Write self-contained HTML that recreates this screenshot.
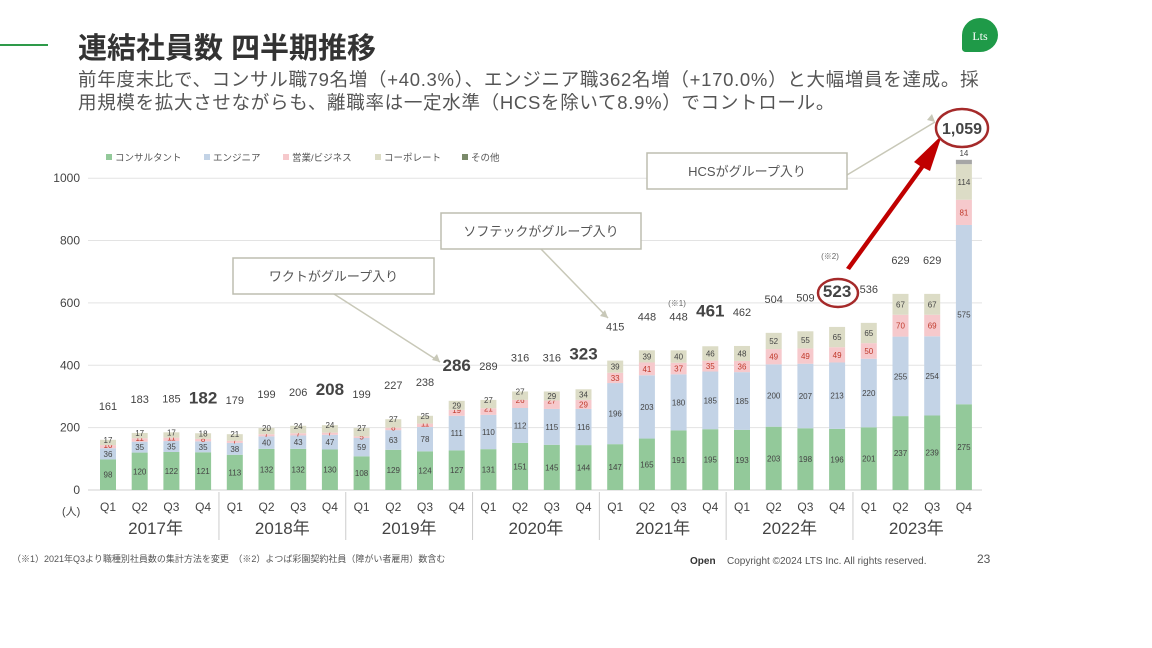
<!DOCTYPE html>
<html><head><meta charset="utf-8">
<style>
body{margin:0;width:1152px;height:648px;background:#fff;overflow:hidden;font-family:"Liberation Sans","Noto Sans CJK JP",sans-serif;color:#404040;position:relative}
.abs{position:absolute}
</style></head><body>
<div class="abs" style="left:0;top:44px;width:48px;height:2px;background:#2e9a4a"></div>
<div class="abs" style="left:78px;top:25px;font-size:29px;font-weight:bold;color:#333">連結社員数 四半期推移</div>
<div class="abs" style="left:78px;top:68px;font-size:18.5px;line-height:23px;color:#555;white-space:nowrap;letter-spacing:0.7px">前年度末比で、コンサル職79名増（+40.3%）、エンジニア職362名増（+170.0%）と大幅増員を達成。採<br>用規模を拡大させながらも、離職率は一定水準（HCSを除いて8.9%）でコントロール。</div>
<div class="abs" style="left:962px;top:18px;width:36px;height:34px;background:#1f9a48;border-radius:50% 50% 50% 10%;color:#fff;font-family:'Liberation Serif',serif;font-size:12px;text-align:center;line-height:36px">Lts</div>
<svg class="abs" style="left:0;top:0" width="1152" height="648" id="chart"></svg>
<div class="abs" style="left:12px;top:552px;font-size:9px;color:#555">（※1）2021年Q3より職種別社員数の集計方法を変更　（※2）よつば彩園契約社員（障がい者雇用）数含む</div>
<div class="abs" style="left:690px;top:556px;font-size:10px;font-weight:bold;color:#333">Open</div>
<div class="abs" style="left:727px;top:556px;font-size:10px;color:#555">Copyright ©2024 LTS Inc. All rights reserved.</div>
<div class="abs" style="left:977px;top:552px;font-size:12px;color:#555">23</div>
<script>
const years=["2017年","2018年","2019年","2020年","2021年","2022年","2023年"];
const quarters=["Q1","Q2","Q3","Q4"];
const consultant=[98,120,122,121,113,132,132,130,108,129,124,127,131,151,145,144,147,165,191,195,193,203,198,196,201,237,239,275];
const engineer=[36,35,35,35,38,40,43,47,59,63,78,111,110,112,115,116,196,203,180,185,185,200,207,213,220,255,254,575];
const sales=[10,11,11,8,7,7,7,7,5,8,11,19,21,26,27,29,33,41,37,35,36,49,49,49,50,70,69,81];
const corporate=[17,17,17,18,21,20,24,24,27,27,25,29,27,27,29,34,39,39,40,46,48,52,55,65,65,67,67,114];
const others=[0,0,0,0,0,0,0,0,0,0,0,0,0,0,0,0,0,0,0,0,0,0,0,0,0,0,0,14];
const totals=[161,183,185,182,179,199,206,208,199,227,238,286,289,316,316,323,415,448,448,461,462,504,509,523,536,629,629,1059];
const yTicks=[0,200,400,600,800,1000];
const NS="http://www.w3.org/2000/svg";
const svg=document.getElementById('chart');
const y0=490,ppu=0.3118,x0=108,step=31.7,bw=16;
const yS=v=>y0-v*ppu, xS=i=>x0+i*step;
function el(t,a,txt){const e=document.createElementNS(NS,t);for(const k in a)e.setAttribute(k,a[k]);if(txt!==undefined)e.textContent=txt;svg.appendChild(e);return e;}
yTicks.forEach(t=>{
 const g=el('line',{x1:88,x2:982,y1:yS(t),y2:yS(t),stroke:t?'#e3e3e3':'#d0d0d0','stroke-width':1});
 
 const l=el('text',{x:80,y:yS(t)+4,'text-anchor':'end','font-size':12,fill:'#444'},t);
 
});
const series=[[consultant,'#93c99a'],[engineer,'#c3d3e6'],[sales,'#f6c9cc'],[corporate,'#dcdcc6'],[others,'#a6a6a6']];
totals.forEach((tot,i)=>{
 let acc=0;const cx=xS(i);
 series.forEach(([arr,c],s)=>{
  const v=arr[i];if(!v)return;
  const r=el('rect',{x:cx-bw/2,y:yS(acc+v),width:bw,height:v*ppu,fill:c});
  
  let ty=yS(acc+v/2)+3;
  if(v*ppu<9) ty=yS(acc+v)+3;
  if(s==4) ty=yS(acc+v)-4;
  const t=el('text',{x:cx,y:ty,'text-anchor':'middle','font-size':8,fill:s==2?'#c0392b':'#444'},v);
  
  acc+=v;
 });
 const big=(i%4==3&&i<24)||i==23||i==27;
 if(i==27)return;
 const tl=el('text',{x:cx,y:yS(tot)-30,'text-anchor':'middle','font-size':big?17:11,'font-weight':big?'bold':'normal',fill:'#444'},tot);
 
});
for(let i=0;i<28;i++){
 const q=el('text',{x:xS(i),y:511,'text-anchor':'middle','font-size':12,fill:'#444'},quarters[i%4]);
 
}
years.forEach((yr,k)=>{
 const t=el('text',{x:xS(k*4)+step*1.5,y:534,'text-anchor':'middle','font-size':17,fill:'#444'},yr);
 
 if(k>0){const l=el('line',{x1:xS(k*4)-step/2,x2:xS(k*4)-step/2,y1:492,y2:540,stroke:'#ccc'});}
});
const u=el('text',{x:62,y:515,'font-size':11,fill:'#444'},'(人)');
const legend=[['コンサルタント','#93c99a'],['エンジニア','#c3d3e6'],['営業/ビジネス','#f6c9cc'],['コーポレート','#dcdcc6'],['その他','#7a8a6a']];
const lx=[106,204,283,375,462];
legend.forEach(([n,c],k)=>{
 const r=el('rect',{x:lx[k],y:154,width:6,height:6,fill:c});
 const t=el('text',{x:lx[k]+9,y:161,'font-size':9.5,fill:'#555'},n);
});
const notes=[['ワクトがグループ入り',233,258,201,36,[334,294,440,362]],['ソフテックがグループ入り',441,213,200,36,[541,249,608,318]],['HCSがグループ入り',647,153,200,36,[847,175,935,122]]];
notes.forEach(([txt,x,y,w,h,a])=>{
 const ln=el('line',{x1:a[0],y1:a[1],x2:a[2],y2:a[3],stroke:'#c8c8b8','stroke-width':1.5});
 el('polygon',{points:`${a[2]},${a[3]} ${a[2]-8},${a[3]-2} ${a[2]-3},${a[3]-8}`,fill:'#c8c8b8'});
 const r=el('rect',{x,y,width:w,height:h,fill:'#fff',stroke:'#bdbdb0','stroke-width':1.5});
 const t=el('text',{x:x+w/2,y:y+23,'text-anchor':'middle','font-size':13,fill:'#555'},txt);
});
const m1=el('text',{x:677,y:306,'text-anchor':'middle','font-size':8,fill:'#666'},'(※1)');
const m2=el('text',{x:830,y:259,'text-anchor':'middle','font-size':8,fill:'#666'},'(※2)');
const ra=el('polygon',{points:'846,268 920,166 914,162 942,135 930,171 924,168 850,270',fill:'#c00000'});
const e1=el('ellipse',{cx:838,cy:293,rx:20,ry:14,fill:'none',stroke:'#a52a2a','stroke-width':2.5});
const e2=el('ellipse',{cx:962,cy:128,rx:26,ry:19,fill:'#fff',stroke:'#a52a2a','stroke-width':2.5});
const t1=el('text',{x:962,y:134,'text-anchor':'middle','font-size':16,'font-weight':'bold',fill:'#444'},'1,059');
</script>
</body></html>
